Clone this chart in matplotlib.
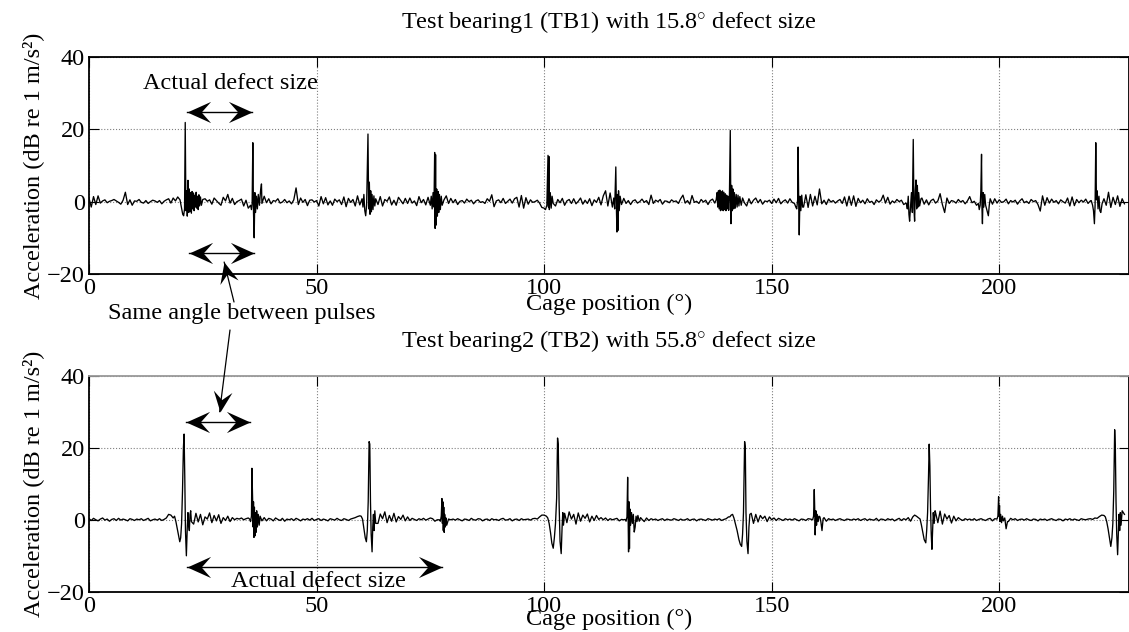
import numpy as np
import matplotlib
matplotlib.use("Agg")
from matplotlib import pyplot as plt
from matplotlib.path import Path
from matplotlib.markers import MarkerStyle

plt.rcParams["font.family"] = ["Liberation Serif", "DejaVu Serif"]
plt.rcParams["mathtext.fontset"] = "custom"
plt.rcParams["mathtext.rm"] = "Liberation Serif"
plt.rcParams["mathtext.it"] = "Liberation Serif:italic"

FS = 17.5
BASE_STEP = 0.5  # baseline samples every 0.5 deg of cage position

# ---- TB1 (15.8 deg defect): baseline, one row per 10 deg ----
tb1_base = [
    1.0, -1.5, 1.4, -0.8, 1.6, -0.4, 0.2, 0.5, -0.3, 0.1, 0.3, 0.6, 0.2, -0.2, -0.7, 0.4, 2.6, -0.8, 0.5, -1.0,
    0.2, 0.1, 0.6, -0.2, -0.4, 0.3, -0.5, 0.0, 0.4, 0.2, -0.2, 0.3, -0.6, 0.1, 0.5, 0.8, -0.4, 1.0, 0.2, 1.3,
    0.8, -1.4, 1.2, -2.0, 2.5, -1.8, 1.5, -2.2, 1.8, -1.0, -0.6, 0.8, 0.1, 0.5, -0.7, 1.0, 0.3, -0.4, -1.0, 1.2,
    0.2, 2.0, -0.4, 0.9, -0.8, 0.0, 0.3, 0.7, -1.2, 0.4, -1.8, 0.0, 0.0, 0.0, 0.0, 0.0, -1.2, 1.5, -0.3, 0.8,
    -0.6, 0.3, 0.1, 0.8, -0.4, -0.1, 0.6, -0.3, 0.2, -0.6, 0.5, 3.8, -0.8, 1.0, -0.2, 0.6, -1.1, 0.4, 0.5, -0.1,
    0.3, -1.2, 1.4, -0.6, 1.1, -0.9, 0.2, -1.0, 0.7, 0.0, 0.5, -0.8, 1.3, -1.4, 0.9, -0.2, 0.6, -1.2, 1.6, -0.9,
    1.0, -2.0, 2.0, -2.5, 3.0, -3.0, 1.5, -0.8, 1.4, -1.2, 0.6, 0.1, 1.3, -0.9, 0.4, -1.0, 1.2, 0.3, -0.6, 0.9,
    -0.5, 1.0, -0.4, 0.2, -1.1, 1.4, -0.3, 0.6, -0.9, 1.2, 0.0, 0.0, 0.0, 0.0, 0.0, 0.0, -1.2, 1.6, -0.5, 0.9,
    -0.3, 0.6, -0.8, 0.1, 0.3, -0.4, 0.7, 0.0, 0.4, -0.6, 0.2, 0.5, -0.2, 0.0, -0.5, 0.8, 0.1, 1.9, -1.4, 0.2,
    0.5, -0.3, 0.9, -0.5, 0.1, 0.7, -0.4, 0.8, 1.2, -1.5, 1.7, -1.8, 1.1, -0.7, 0.5, -0.2, 0.0, 0.4, -0.4, -1.6,
    -1.8, 0.0, 0.0, 0.0, 0.9, -1.2, 0.6, -0.3, 0.9, -1.0, 0.2, 0.6, -0.5, 0.8, -0.6, 0.1, 1.0, -0.7, 0.4, -0.5,
    0.8, -1.1, 0.5, -0.2, 1.2, -0.9, 1.6, 3.0, -1.2, 2.4, -1.2, 0.0, 0.0, 0.0, 0.0, 0.9, -0.5, 0.3, -0.8, 0.2,
    0.5, -0.4, 0.0, 0.7, -0.2, 0.3, -0.8, 1.8, -0.5, 0.4, 0.0, 0.6, -0.7, 0.2, 0.1, -0.3, 0.5, 0.0, 0.2, -0.5,
    0.8, 1.8, -0.4, 0.3, -0.7, 1.7, -0.2, 0.1, -0.5, 0.6, -0.1, 0.4, -0.8, 0.3, 0.7, -0.4, 0.0, 0.0, 0.0, 0.0,
    0.0, 0.0, 0.0, 0.0, 0.0, 0.0, 0.0, 0.0, 0.0, -1.2, 0.8, -0.6, 0.4, 1.0, -0.3, 0.6, -0.7, 0.2, 0.0, 0.4,
    -0.5, 0.7, -0.3, 0.9, -0.6, 0.1, 0.5, -0.4, 0.8, -0.2, 0.0, 0.0, 0.0, 0.0, -1.5, 1.9, -1.6, 2.0, -1.2, 1.5,
    -0.9, 3.5, -0.6, 0.4, -0.8, 0.7, -0.1, 0.3, -0.4, 0.2, 0.6, -0.5, 1.3, -1.2, 1.5, -1.0, 1.6, -1.3, 0.9, -0.3,
    0.4, -0.6, 0.8, -0.2, 0.1, -0.8, 0.5, -0.1, 0.3, 1.8, -0.4, 1.2, -0.7, 0.2, -0.3, 0.6, 0.0, 0.4, -0.8, -0.4,
    0.0, 0.0, 0.0, 0.0, 0.0, 0.0, 1.0, -0.7, 0.5, -0.9, 0.3, 0.7, -0.4, 0.2, 2.2, -0.8, -3.0, 1.0, -0.5, 0.3,
    0.1, -0.4, 0.6, -0.1, 0.3, -0.6, 0.2, 1.4, -0.3, 0.1, -1.0, 0.0, 0.0, 0.0, 0.0, 0.0, 0.0, -0.7, 0.8, -0.4,
    0.5, -0.2, 0.0, 0.7, -0.6, 0.3, -0.1, 0.4, -0.7, 0.2, 0.8, -0.3, 0.1, -0.5, 0.6, 0.0, 0.3, -0.8, -2.6, 1.6,
    -1.0, 1.1, -0.4, 0.7, -0.2, 0.3, -0.6, 0.5, 0.0, -0.4, 1.0, -1.2, 1.3, -1.1, 0.6, -0.3, 0.4, -0.1, 0.7, -0.5,
    0.2, 0.0, 0.0, 0.0, 0.0, 0.0, 0.8, -1.0, 2.6, -1.6, 1.2, -0.8, 1.6, -1.3, 0.8, -0.6,
]

# TB1 impacts, (deg, dB) points read around each pulse
tb1_pulses = [
    [(20.0, 0.5), (20.3, -1.5), (20.6, -3.5), (20.8, -3.9), (21.0, -2.0), (21.15, 21.9), (21.3, -2.5),
     (21.45, 3.0), (21.6, -4.0), (21.75, 5.9), (21.9, -3.0), (22.05, 3.5), (22.2, -2.8), (22.35, 2.5),
     (22.5, -3.2), (22.65, 2.8), (22.8, -2.0), (22.95, 2.4), (23.1, -2.5), (23.25, 1.8), (23.4, -1.5),
     (23.55, 2.6), (23.7, -1.8), (23.85, 1.5), (24.0, -2.2), (24.15, 1.9), (24.3, -1.2), (24.5, 1.3),
     (24.7, -1.0), (25.0, 0.6)],
    [(35.5, -1.0), (35.7, -2.2), (35.85, -0.5), (36.0, 16.3), (36.15, -3.0), (36.3, -10.0), (36.45, 2.5),
     (36.6, -3.0), (36.8, 1.5), (37.0, -2.0), (37.2, 2.0), (37.45, -1.0), (37.7, 3.0), (37.9, 4.9),
     (38.0, -0.5)],
    [(60.0, 0.8), (60.2, -1.5), (60.4, 2.0), (60.6, -2.5), (60.8, -3.9), (61.0, -1.0), (61.3, 18.7),
     (61.45, -2.0), (61.6, 5.4), (61.75, -3.5), (61.9, 3.0), (62.05, -2.8), (62.2, 2.0), (62.4, -2.2),
     (62.6, 1.6), (62.8, -1.2), (63.0, 0.8)],
    [(75.0, -1.0), (75.2, 1.5), (75.4, -2.0), (75.6, 2.5), (75.8, -1.5), (75.95, 13.6), (76.05, -7.4),
     (76.15, 13.0), (76.25, -6.5), (76.4, 3.5), (76.55, -4.0), (76.7, 2.8), (76.85, -3.0), (77.0, 2.0),
     (77.2, -2.2), (77.4, 1.5), (77.6, -1.0), (78.0, 0.5)],
    [(100.3, -2.2), (100.6, -1.0), (100.85, 12.8), (100.95, -1.5), (101.05, 12.5), (101.15, -2.2),
     (101.35, 2.5), (101.55, -1.8), (101.75, 1.5), (102.0, -0.5)],
    [(115.0, -1.5), (115.3, 1.0), (115.5, -2.0), (115.75, 9.6), (115.9, -3.0), (116.0, -8.4), (116.1, 2.0),
     (116.2, -8.0), (116.35, 3.0), (116.5, -2.5), (116.7, 1.5), (117.0, -0.8)],
    [(137.8, 0.5), (138.0, 2.5), (138.15, -1.5), (138.3, 3.0), (138.45, -2.0), (138.6, 3.2), (138.75, -2.5),
     (138.9, 2.8), (139.05, -2.3), (139.2, 3.0), (139.35, -2.5), (139.5, 2.6), (139.65, -2.2), (139.8, 2.2),
     (139.95, -2.5), (140.1, 1.8), (140.25, -2.0), (140.4, 1.5), (140.55, -2.4), (140.7, 0.5), (140.9, 19.7),
     (141.05, -6.1), (141.2, 4.5), (141.35, -2.5), (141.5, 3.5), (141.65, -2.0), (141.8, 2.5), (142.0, -1.8),
     (142.2, 2.0), (142.4, -1.5), (142.6, 1.8), (142.8, -1.2), (143.0, 1.4), (143.3, -1.0), (143.6, 1.0),
     (144.0, -0.3)],
    [(155.0, -0.5), (155.3, -1.5), (155.5, -2.0), (155.7, 0.5), (155.8, 15.1), (155.95, -2.0), (156.05, -9.2),
     (156.2, 1.5), (156.4, -2.5), (156.6, 1.8), (156.8, -1.5)],
    [(179.6, -0.6), (179.8, -2.0), (180.0, 1.5), (180.15, -3.5), (180.3, -5.4), (180.5, -1.5), (180.7, 2.5),
     (180.9, -3.0), (181.1, 17.2), (181.25, -2.0), (181.4, -5.4), (181.55, 3.0), (181.7, 6.0), (181.85, -2.0),
     (182.0, 4.5), (182.15, -1.5), (182.3, 2.5), (182.5, -1.2), (182.8, 0.8)],
    [(195.4, -0.5), (195.6, -2.2), (195.8, -1.0), (195.95, 3.0), (196.1, 13.1), (196.2, -2.0), (196.3, -6.1),
     (196.45, 2.5), (196.6, -1.5), (196.8, 2.0), (197.0, -1.0), (197.3, -2.5), (197.6, -3.9), (197.8, -1.0),
     (198.0, 0.8)],
    [(220.2, 0.3), (220.5, -1.0), (220.7, -2.5), (220.9, -6.1), (221.05, -1.0), (221.2, 16.3), (221.35, 0.5),
     (221.5, 3.0), (221.7, -2.0), (221.9, 1.5), (222.1, -2.5), (222.3, -3.0), (222.6, -0.5)],
]

# ---- TB2 (55.8 deg defect): baseline, one row per 10 deg ----
tb2_base = [
    0.3, -0.2, 0.4, 0.0, -0.3, 0.2, 0.5, -0.1, 0.2, -0.4, 0.1, 0.3, -0.2, 0.4, -0.1, 0.2, 0.0, -0.3, 0.3, 0.1,
    -0.2, 0.2, 0.0, 0.3, -0.2, 0.1, 0.4, -0.3, 0.0, 0.2, -0.1, 0.3, -0.2, 0.1, 0.5, 1.5, 1.3, 0.5, -1.5, -4.0,
    0.0, 0.0, 0.0, 0.0, 0.0, 2.0, -1.2, 1.8, -0.6, 1.5, -1.4, 0.8, 0.2, 1.9, -0.8, 1.2, -0.3, 1.4, -1.0, 0.6,
    -0.2, 1.0, -0.5, 0.6, 0.0, 0.4, 0.2, 0.5, 0.0, 0.3, 0.5, 1.2, 0.0, 0.0, 0.0, 0.0, -0.8, 0.6, -0.3, 0.4,
    0.2, -0.3, 0.5, 0.1, -0.2, 0.4, -0.4, 0.2, 0.0, 0.3, -0.2, 0.4, 0.1, -0.3, 0.2, 0.0, 0.3, -0.1, 0.4, -0.2,
    0.1, 0.3, -0.2, 0.2, 0.0, -0.3, 0.3, 0.1, -0.1, 0.4, 0.0, -0.2, 0.3, 0.1, -0.2, 0.2, 0.4, 0.6, 0.9, 1.1,
    0.0, 0.0, 0.0, 0.0, 0.0, 0.0, 2.0, -1.0, 1.6, 0.3, 2.2, -0.8, 1.2, -0.4, 1.8, -0.6, 0.9, 0.1, 1.3, -0.3,
    0.8, -0.2, 0.4, 0.1, -0.2, 0.3, 0.0, 0.4, -0.1, 0.2, 0.5, 0.3, -0.4, 0.0, 0.0, 0.0, 0.0, -0.3, 0.2, 0.0,
    0.2, -0.1, 0.3, 0.0, -0.3, 0.2, 0.1, -0.2, 0.4, 0.0, -0.1, 0.3, 0.2, -0.3, 0.1, 0.2, -0.2, 0.3, 0.0, 0.1,
    -0.2, 0.2, 0.4, -0.1, 0.0, 0.3, -0.3, 0.1, 0.2, -0.2, 0.3, 0.0, 0.1, 0.2, -0.1, 0.3, 0.4, 0.2, 0.8, 1.3,
    1.3, 0.0, 0.0, 0.0, 0.0, 0.0, 0.0, 0.0, 0.0, 1.8, -0.8, 2.2, 0.2, 1.5, -1.2, 1.9, -0.4, 1.3, 0.4, 1.6,
    -0.6, 1.0, -0.2, 1.2, 0.1, 0.6, 0.0, 0.5, -0.2, 0.3, 0.0, 0.2, 0.4, -0.3, 0.1, 0.0, 0.0, 0.0, 0.0, 0.0,
    0.0, 0.0, 0.0, 0.8, -0.5, 0.5, -0.2, 0.3, 0.0, 0.2, -0.2, 0.1, 0.3, -0.2, 0.2, 0.0, -0.1, 0.3, 0.1, -0.2,
    0.2, -0.1, 0.0, 0.3, -0.2, 0.1, 0.2, -0.3, 0.1, 0.2, 0.0, -0.2, 0.3, 0.1, -0.1, 0.2, 0.0, 0.3, -0.2, 0.1,
    0.3, 0.8, 0.0, 0.0, 0.0, 0.0, 0.0, 0.0, 0.0, 0.0, 0.0, 1.8, -1.0, 1.5, -0.6, 1.2, 0.3, 1.0, -0.5, 0.8,
    0.0, 0.5, -0.2, 0.4, 0.1, -0.2, 0.3, 0.0, 0.2, -0.1, 0.3, 0.0, -0.3, 0.2, 0.1, -0.2, 0.3, 0.2, 0.0, 0.0,
    0.0, 0.0, -1.5, 0.6, -0.4, 0.3, 0.0, 0.2, -0.2, 0.1, 0.3, 0.0, -0.2, 0.2, 0.1, -0.1, 0.2, 0.0, 0.3, -0.2,
    0.1, 0.3, -0.2, 0.2, 0.0, -0.1, 0.4, -0.3, 0.2, 0.1, -0.2, 0.3, 0.0, 0.2, -0.3, 0.1, 0.4, -0.2, 0.3, 0.0,
    0.6, -0.4, 0.8, 0.0, 0.0, 0.0, 0.0, 0.0, 0.0, 0.0, 0.0, 0.0, 2.0, -0.8, 2.4, -1.2, 1.6, 0.2, 1.2, -0.9,
    1.0, -0.3, 0.6, 0.1, -0.2, 0.3, 0.0, 0.2, -0.1, 0.3, -0.2, 0.1, 0.3, 0.0, -0.2, 0.2, 0.4, -0.3, 0.3, 0.0,
    0.0, 0.0, 0.0, 0.0, -0.5, 0.4, 0.0, 0.3, -0.2, 0.1, 0.2, -0.1, 0.3, 0.0, -0.2, 0.2, 0.1, -0.3, 0.2, 0.0,
    0.2, -0.2, 0.1, 0.3, 0.0, -0.2, 0.2, 0.1, -0.3, 0.2, 0.0, 0.3, -0.1, 0.2, 0.0, -0.2, 0.3, 0.1, 0.0, 0.2,
    0.3, 0.1, 0.5, 0.4, 0.9, 1.3, 0.0, 0.0, 0.0, 0.0, 0.0, 0.0, 0.0, 0.0, 2.5, 1.5,
]

tb2_pulses = [
    [(18.8, 1.0), (19.1, -0.5), (19.4, -2.5), (19.7, -4.5), (19.95, -6.1), (20.15, -5.0), (20.35, -1.0),
     (20.55, 8.0), (20.75, 20.0), (20.9, 23.8), (21.05, 12.0), (21.2, -3.0), (21.4, -10.0), (21.6, -2.0),
     (21.75, 2.0), (21.9, -1.5), (22.05, -3.0), (22.2, 1.5), (22.35, 2.5), (22.5, -0.5)],
    [(35.3, 0.2), (35.5, -0.5), (35.7, 1.0), (35.8, 14.3), (35.95, 6.0), (36.05, -2.0), (36.15, 5.0),
     (36.25, -4.9), (36.35, 3.5), (36.45, -4.5), (36.55, 2.0), (36.7, -3.5), (36.85, 2.5), (37.0, -2.0),
     (37.2, 1.5), (37.4, -1.5), (37.6, 1.0), (38.0, -0.3)],
    [(59.8, 1.0), (60.1, 0.2), (60.4, -2.5), (60.7, -5.0), (60.95, -6.1), (61.15, -3.0), (61.35, 5.0),
     (61.55, 21.7), (61.7, 21.0), (61.85, 5.0), (62.0, -4.0), (62.2, -8.9), (62.35, -2.0), (62.5, 1.5),
     (62.65, -3.0), (62.8, 2.5), (63.0, -1.0)],
    [(77.0, 0.0), (77.2, -0.4), (77.4, 1.0), (77.55, 5.9), (77.65, -1.0), (77.75, 5.0), (77.85, -3.0),
     (77.95, 3.5), (78.05, -3.5), (78.15, 1.5), (78.3, -2.0), (78.45, 0.5), (78.6, -1.5)],
    [(100.5, 1.0), (100.8, 0.5), (101.1, -1.0), (101.4, -3.5), (101.7, -6.5), (102.0, -7.9), (102.25, -5.0),
     (102.5, -1.0), (102.75, 6.0), (102.95, 22.7), (103.1, 21.0), (103.3, 4.0), (103.5, -6.0), (103.75, -9.4),
     (103.95, -2.0), (104.1, 2.0), (104.25, -1.5)],
    [(117.8, 0.1), (118.0, -0.4), (118.2, 0.8), (118.35, 11.8), (118.45, 2.0), (118.55, -8.9), (118.65, 5.0),
     (118.75, -8.0), (118.85, 3.0), (119.0, -1.5), (119.2, 2.0), (119.4, -1.0), (119.6, 1.5), (119.8, -3.4),
     (120.0, -2.0), (120.2, 1.0), (120.4, -0.5), (120.6, 1.2), (120.9, -0.4), (121.2, 0.6), (121.6, 0.0)],
    [(140.8, 0.8), (141.1, 1.3), (141.4, 1.5), (141.7, 0.5), (142.0, -1.0), (142.4, -3.0), (142.8, -5.5),
     (143.1, -6.8), (143.4, -7.4), (143.6, -4.0), (143.8, 2.0), (143.95, 14.0), (144.05, 21.7), (144.2, 20.0),
     (144.35, 2.0), (144.55, -6.0), (144.8, -9.4), (145.0, -2.0), (145.2, 1.5)],
    [(159.0, 0.0), (159.2, 1.0), (159.35, 8.4), (159.45, 3.0), (159.55, -4.2), (159.7, 2.5), (159.85, -1.5),
     (160.0, 1.5), (160.2, -0.5), (160.4, 1.0), (160.6, 0.8), (160.8, -0.5), (161.05, -3.0), (161.3, 0.3)],
    [(181.0, 0.8), (181.4, 1.3), (181.8, 1.0), (182.2, 0.6), (182.6, 0.2), (182.9, -1.5), (183.2, -3.5),
     (183.5, -5.5), (183.85, -6.4), (184.05, -3.0), (184.25, 2.0), (184.45, 12.0), (184.6, 21.0),
     (184.75, 15.0), (184.9, 3.0), (185.05, -4.0), (185.2, -8.2), (185.35, -3.0), (185.5, 2.0),
     (185.7, -1.0), (185.9, 2.5)],
    [(199.5, 0.2), (199.7, 1.0), (199.85, 6.4), (199.95, 1.0), (200.05, 4.0), (200.15, -0.5), (200.3, 1.5),
     (200.5, -0.8), (200.7, 1.0), (200.9, -0.3), (201.2, 0.5), (201.5, -2.5), (201.8, -0.5)],
    [(223.0, 1.2), (223.3, 0.8), (223.6, -0.5), (223.9, -2.5), (224.2, -5.0), (224.5, -7.4), (224.75, -5.0),
     (224.95, -1.0), (225.15, 8.0), (225.35, 25.0), (225.5, 20.0), (225.65, 5.0), (225.8, -4.0),
     (226.0, -9.7), (226.15, -4.0), (226.3, 1.5), (226.45, -3.0), (226.6, 2.0), (226.75, -1.5), (226.9, 1.0)],
]

titles = [
    r"Test bearing1 (TB1) with 15.8$^{\circ}$ defect size",
    r"Test bearing2 (TB2) with 55.8$^{\circ}$ defect size",
]
x_ticks = [0, 50, 100, 150, 200]
y_ticks = [-20, 0, 20, 40]

# swept-back arrow head, tip at the origin pointing along +x
HEAD = Path([(0, 0), (-1, 0.45), (-0.6, 0), (-1, -0.45), (0, 0)],
            [Path.MOVETO, Path.LINETO, Path.LINETO, Path.LINETO, Path.CLOSEPOLY])


def trace(base, pulses):
    # baseline samples, replaced by the pulse points inside each pulse window
    xs = np.arange(len(base)) * BASE_STEP
    ys = np.asarray(base, dtype=float)
    keep = np.ones(len(xs), dtype=bool)
    px, py = [], []
    for pts in pulses:
        x0, x1 = pts[0][0], pts[-1][0]
        keep &= ~((xs >= x0) & (xs <= x1))
        px += [p[0] for p in pts]
        py += [p[1] for p in pts]
    x = np.concatenate([xs[keep], px])
    y = np.concatenate([ys[keep], py])
    order = np.argsort(x)
    return x[order], y[order]


def head(ax, tip, tail_disp, size=34):
    tip_disp = ax.transData.transform(tip)
    d = tip_disp - tail_disp
    ang = np.degrees(np.arctan2(d[1], d[0]))
    ax.plot([tip[0]], [tip[1]], linestyle="none", color="black", clip_on=False, zorder=5,
            marker=MarkerStyle(HEAD).rotated(deg=ang), markersize=size, markeredgewidth=0)


def double_arrow(ax, x0, x1, y):
    ax.plot([x0, x1], [y, y], color="black", linewidth=1.0, clip_on=False, zorder=5)
    head(ax, (x1, y), ax.transData.transform((x0, y)))
    head(ax, (x0, y), ax.transData.transform((x1, y)))


def pointer(ax, tail_fig, tip):
    tail_disp = fig.transFigure.transform(tail_fig)
    ax.annotate("", xy=tip, xytext=tail_fig, textcoords="figure fraction",
                arrowprops=dict(arrowstyle="-", color="black", linewidth=0.9,
                                shrinkA=0, shrinkB=0),
                annotation_clip=False)
    head(ax, tip, tail_disp, size=30)


fig = plt.figure(figsize=(11.29, 6.32), dpi=100)
ax1 = fig.add_axes([0.0788, 0.5665, 0.9212, 0.3433])
ax2 = fig.add_axes([0.0788, 0.0636, 0.9212, 0.3419])

for ax, base, pulses, title in zip([ax1, ax2], [tb1_base, tb2_base], [tb1_pulses, tb2_pulses], titles):
    x, y = trace(base, pulses)
    ax.plot(x, y, color="black", linewidth=0.95, zorder=3)
    ax.set_xlim(0, 228.5)
    ax.set_ylim(-20, 40)
    ax.set_xticks(x_ticks)
    ax.set_yticks(y_ticks)
    ax.grid(True, linestyle=":", color="0.5", linewidth=0.8)
    ax.tick_params(direction="in", top=True, right=True, length=7.5, width=0.8,
                   labelsize=FS, pad=3)
    for sp in ax.spines.values():
        sp.set_linewidth(1.3)
    ax.set_title(title, fontsize=FS, pad=21)
    ax.set_ylabel("Acceleration (dB re 1 m/s²)", fontsize=FS, labelpad=2)

ax1.set_xlabel("Cage position (°)", fontsize=FS, labelpad=-4)
ax2.set_xlabel("Cage position (°)", fontsize=FS, labelpad=-6)
ax2.spines["top"].set_color("0.6")

# top panel annotations
ax1.text(31.0, 32.8, "Actual defect size", fontsize=FS, ha="center", va="center")
double_arrow(ax1, 21.5, 35.8, 24.8)
double_arrow(ax1, 22.0, 36.3, -14.1)

# shared note between the panels
fig.text(242 / 1129, 1 - 314 / 632, "Same angle between pulses", fontsize=FS,
         ha="center", va="center")
pointer(ax1, (234 / 1129, 1 - 302 / 632), (29.7, -16.7))
pointer(ax2, (230 / 1129, 1 - 330 / 632), (28.7, 30.0))

# bottom panel annotations
double_arrow(ax2, 21.3, 35.4, 27.2)
double_arrow(ax2, 21.6, 77.5, -13.0)
ax2.text(50.4, -17.0, "Actual defect size", fontsize=FS, ha="center", va="center")

fig.savefig("out.png", dpi=100)
